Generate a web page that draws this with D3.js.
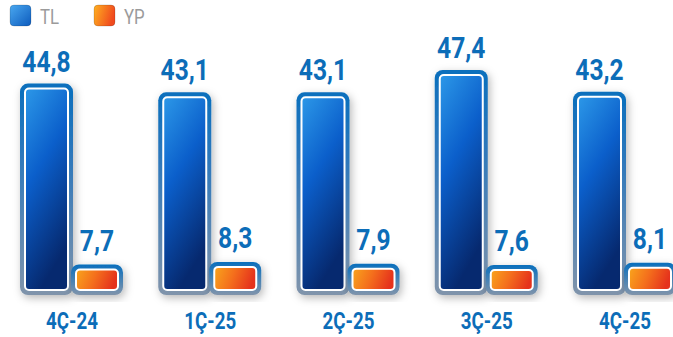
<!DOCTYPE html>
<html><head><meta charset="utf-8">
<script src="https://cdn.jsdelivr.net/npm/d3@7"></script>
<style>html,body{margin:0;padding:0;background:#fff;overflow:hidden}</style>
</head><body>
<svg id="c" width="673" height="337"></svg>
<script>
const categories = ["4Ç-24","1Ç-25","2Ç-25","3Ç-25","4Ç-25"];
const tlValues = [44.8, 43.1, 43.1, 47.4, 43.2];
const ypValues = [7.7, 8.3, 7.9, 7.6, 8.1];
const seriesNames = ["TL","YP"];

const svg = d3.select("#c");
const defs = svg.append("defs");

function lin(id, x1,y1,x2,y2, stops){
  const g = defs.append("linearGradient").attr("id",id)
    .attr("x1",x1).attr("y1",y1).attr("x2",x2).attr("y2",y2);
  stops.forEach(s=>g.append("stop").attr("offset",s[0]).attr("stop-color",s[1]));
}
lin("tlFill",0,0,0.35,1,[[0,"#2c98e8"],[0.45,"#0b5fcb"],[1,"#06296f"]]);
lin("ypFill",0,0,1,0.2,[[0,"#f9a51c"],[0.5,"#f46f1c"],[1,"#e5321c"]]);
lin("border",0,0,0,1,[[0,"#0a6fbd"],[0.35,"#2f78bb"],[1,"#8094ab"]]);
lin("ypBorder",0,0,0,1,[[0,"#0a6fbd"],[1,"#8094ab"]]);
lin("legTL",0,0,1,1,[[0,"#4aa8f0"],[1,"#0d5bbd"]]);
lin("legYP",0,0,1,0.3,[[0,"#ffb020"],[1,"#f04a1e"]]);

const f = defs.append("filter").attr("id","sh").attr("x","-40%").attr("y","-20%").attr("width","180%").attr("height","140%");
f.append("feDropShadow").attr("dx",2).attr("dy",3).attr("stdDeviation",4).attr("flood-color","#000").attr("flood-opacity",0.28);

const baseline = 295;
const y = d3.scalePow().exponent(1.1).domain([0, 47.4]).range([baseline, 70]);
const x = d3.scalePoint().domain(categories).range([72, 625]);

const tlW = 53, ypW = 52, bw = 5;
const blue = "#0c6db8";

function bar(g, x0, w, v, fillId, borderId){
  const top = y(v);
  const h = baseline - top;
  g.append("rect").attr("x",x0).attr("y",top).attr("width",w).attr("height",h)
    .attr("rx",8).attr("fill",`url(#${borderId})`).attr("filter","url(#sh)");
  g.append("rect").attr("x",x0+bw).attr("y",top+bw).attr("width",w-2*bw).attr("height",h-2*bw)
    .attr("rx",4).attr("fill",`url(#${fillId})`).attr("stroke","#fff").attr("stroke-width",2);
}

function label(txt, cx, by, size, sx, color, weight){
  svg.append("text").attr("transform",`translate(${cx},${by}) scale(${sx},1)`)
    .attr("text-anchor","middle").attr("font-family","Roboto, 'Liberation Sans', sans-serif")
    .attr("font-weight",weight).attr("font-size",size).attr("fill",color).text(txt);
}

const fmt = v => d3.format(".1f")(v).replace(".", ",");

categories.forEach((c,i)=>{
  const cx = x(c);
  const g = svg.append("g");
  bar(g, cx-52, tlW, tlValues[i], "tlFill", "border");
  bar(g, cx-1, ypW, ypValues[i], "ypFill", "ypBorder");
  label(fmt(tlValues[i]), cx-52+tlW/2, y(tlValues[i])-12, 30, 0.82, blue, 700);
  label(fmt(ypValues[i]), cx-1+ypW/2, y(ypValues[i])-14, 30, 0.82, blue, 700);
  label(c, cx, 329, 24, 0.78, blue, 700);
});

// legend
const leg = [{n:seriesNames[0], x:10, g:"legTL"},{n:seriesNames[1], x:94, g:"legYP"}];
leg.forEach(d=>{
  svg.append("rect").attr("x",d.x).attr("y",5).attr("width",21).attr("height",21).attr("rx",4)
    .attr("fill",`url(#${d.g})`).attr("stroke","rgba(0,0,0,0.15)").attr("stroke-width",1);
  svg.append("text").attr("transform",`translate(${d.x+30},24) scale(0.8,1)`)
    .attr("font-family","Roboto, sans-serif").attr("font-size",21).attr("fill","#9b9b9b").text(d.n);
});
</script>
</body></html>
